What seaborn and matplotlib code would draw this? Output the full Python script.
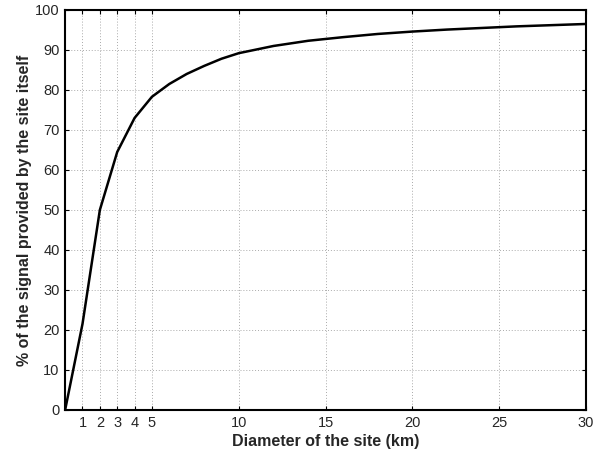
import matplotlib
matplotlib.use("Agg")
import matplotlib.pyplot as plt
import seaborn as sns
import pandas as pd

diameter_km = [0, 1, 2, 3, 4, 5, 6, 7, 8, 9, 10, 12, 14, 16, 18, 20, 22, 24, 26, 28, 30]
signal_pct = [0, 21.5, 50, 64.5, 73, 78.3, 81.5, 84, 86, 87.8, 89.2, 91, 92.3, 93.2, 94, 94.6, 95.1, 95.5, 95.9, 96.2, 96.5]
xticks = [1, 2, 3, 4, 5, 10, 15, 20, 25, 30]
yticks = list(range(0, 101, 10))

sns.set_style("white")
plt.rcParams['font.family'] = ['Liberation Sans', 'DejaVu Sans']

df = pd.DataFrame({"d": diameter_km, "s": signal_pct})

fig = plt.figure(figsize=(6.03, 4.53), dpi=100)
ax = fig.add_axes([0.108, 0.095, 0.864, 0.883])
sns.lineplot(data=df, x="d", y="s", ax=ax, color="black", linewidth=1.8)

ax.set_xlim(0, 30)
ax.set_ylim(0, 100)
ax.set_xticks(xticks)
ax.set_yticks(yticks)
ax.grid(True, linestyle=(0, (1, 2)), color="#aaaaaa", linewidth=0.7)
ax.tick_params(direction="in", length=3, labelsize=10.5, top=True, right=True,
               bottom=True, left=True, color="black", pad=4)
for s in ax.spines.values():
    s.set_visible(True)
    s.set_color("black")
    s.set_linewidth(1.5)
ax.set_xlabel("Diameter of the site (km)", fontsize=11.5, fontweight="bold", labelpad=3)
ax.set_ylabel("% of the signal provided by the site itself", fontsize=11.5, fontweight="bold", labelpad=2)

fig.savefig("out.png", dpi=100)
